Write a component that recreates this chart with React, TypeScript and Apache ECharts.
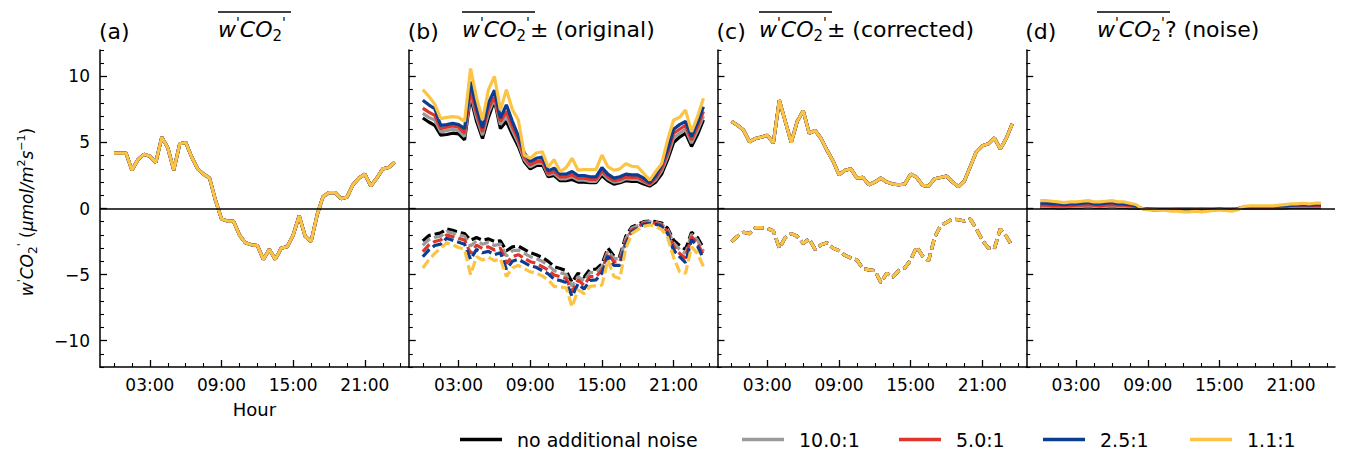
import React, { useEffect, useRef } from 'react';
import * as echarts from 'echarts';

// ---------- data ----------
const hours = [0, 0.5, 1, 1.5, 2, 2.5, 3, 3.5, 4, 4.5, 5, 5.5, 6, 6.5, 7, 7.5, 8, 8.5, 9, 9.5, 10, 10.5, 11, 11.5,
  12, 12.5, 13, 13.5, 14, 14.5, 15, 15.5, 16, 16.5, 17, 17.5, 18, 18.5, 19, 19.5, 20, 20.5, 21, 21.5, 22, 22.5, 23, 23.5];

const seriesNames = ['no additional noise', '10.0:1', '5.0:1', '2.5:1', '1.1:1'];
const seriesColors = ['#000000', '#9a9a9a', '#e0352b', '#0b3d91', '#fcc444'];

const majorX = [3, 9, 15, 21];
const minorX = [0, 1.5, 4.5, 6, 7.5, 10.5, 12, 13.5, 16.5, 18, 19.5, 22.5, 24];
const majorY = [-10, -5, 0, 5, 10];
const minorY = [-12, -11, -9, -8, -7, -6, -4, -3, -2, -1, 1, 2, 3, 4, 6, 7, 8, 9, 11, 12];

// (a) mean flux (all noise levels overlap)
const aFlux = [4.2, 4.2, 4.2, 2.9, 3.7, 4.1, 3.95, 3.5, 5.4, 4.6, 2.9, 4.9, 5.0, 3.9, 3.0, 2.6, 2.3, 0.6, -0.8, -0.95,
  -0.95, -2.0, -2.6, -2.75, -2.8, -3.85, -3.1, -3.85, -3.0, -2.9, -2.0, -0.55, -2.1, -2.5, -0.5, 0.9, 1.2, 1.2, 0.75,
  0.85, 1.8, 2.3, 2.6, 1.7, 2.3, 3.0, 3.1, 3.5];

// (b) original positive part
const bUpBlack = [6.85, 6.55, 6.3, 5.55, 5.6, 5.7, 5.65, 5.2, 8.45, 6.6, 5.3, 6.9, 8.2, 6.05, 6.6, 5.6, 4.7, 3.55, 3.0,
  3.25, 3.35, 2.4, 2.5, 2.1, 2.1, 2.2, 2.0, 2.0, 1.95, 1.95, 2.5, 2.1, 1.85, 1.95, 2.1, 2.05, 2.05, 1.85, 1.7, 2.0, 2.6,
  3.7, 5.0, 5.4, 5.7, 4.7, 5.6, 6.7];
const bUpGrey = [7.2, 6.9, 6.7, 5.8, 5.9, 6.0, 5.9, 5.45, 8.7, 6.9, 5.55, 7.25, 8.3, 6.35, 7.0, 5.9, 4.95, 3.7, 3.15,
  3.4, 3.5, 2.55, 2.65, 2.25, 2.25, 2.4, 2.15, 2.15, 2.05, 2.05, 2.7, 2.25, 2.0, 2.05, 2.25, 2.2, 2.2, 2.0, 1.8, 2.15,
  2.85, 3.95, 5.35, 5.7, 6.0, 4.95, 5.9, 7.0];
const bUpRed = [7.6, 7.3, 7.05, 6.05, 6.15, 6.25, 6.15, 5.7, 9.0, 7.2, 5.8, 7.6, 8.45, 6.6, 7.35, 6.2, 5.2, 3.9, 3.3,
  3.55, 3.65, 2.65, 2.8, 2.4, 2.4, 2.55, 2.3, 2.3, 2.2, 2.2, 2.85, 2.4, 2.1, 2.2, 2.4, 2.35, 2.35, 2.1, 1.85, 2.3, 3.05,
  4.2, 5.7, 6.0, 6.3, 5.2, 6.2, 7.35];
const bUpBlue = [8.2, 7.85, 7.55, 6.3, 6.35, 6.45, 6.35, 6.05, 9.6, 7.6, 6.1, 8.0, 8.95, 6.85, 7.85, 6.6, 5.5, 4.2, 3.55,
  3.8, 3.9, 2.85, 3.05, 2.6, 2.6, 2.8, 2.5, 2.5, 2.4, 2.4, 3.1, 2.6, 2.3, 2.4, 2.6, 2.55, 2.55, 2.3, 1.95, 2.5, 3.3, 4.5,
  6.0, 6.35, 6.6, 5.45, 6.5, 7.7];
const bUpYellow = [9.0, 8.5, 7.9, 6.8, 6.9, 6.95, 6.9, 6.6, 10.6, 8.4, 6.7, 9.0, 10.0, 7.45, 9.0, 7.5, 6.7, 4.05, 3.8,
  4.2, 4.3, 3.15, 3.7, 2.8, 3.1, 3.8, 2.9, 2.95, 2.95, 2.95, 4.05, 3.15, 2.9, 3.0, 3.4, 3.2, 3.15, 2.65, 2.15, 2.8, 3.4,
  5.2, 6.7, 6.9, 7.45, 5.8, 6.95, 8.35];

// (b) original negative part
const bLowBlack = [-2.45, -2.05, -1.95, -1.85, -1.55, -1.65, -1.8, -1.9, -2.4, -2.2, -2.4, -2.3, -2.5, -2.45, -3.2, -2.9,
  -2.85, -3.1, -3.35, -3.5, -3.7, -4.0, -4.4, -4.55, -4.7, -5.6, -4.9, -5.2, -4.6, -4.6, -4.2, -3.0, -3.6, -3.6, -2.1,
  -1.4, -1.2, -1.0, -0.95, -1.0, -1.1, -1.5, -2.4, -2.8, -3.1, -1.8, -2.2, -3.0];
const bLowGrey = [-2.8, -2.35, -2.2, -2.1, -1.75, -1.85, -2.0, -2.1, -2.85, -2.45, -2.7, -2.55, -2.8, -2.7, -3.6, -3.2,
  -3.15, -3.4, -3.65, -3.8, -4.0, -4.3, -4.7, -4.85, -5.0, -5.9, -5.15, -5.5, -4.85, -4.85, -4.4, -3.2, -3.8, -3.8, -2.3,
  -1.5, -1.3, -1.05, -1.0, -1.05, -1.2, -1.6, -2.6, -3.1, -3.4, -1.95, -2.4, -3.25];
const bLowRed = [-3.27, -2.77, -2.5, -2.39, -2.0, -2.13, -2.26, -2.39, -3.4, -2.77, -3.02, -2.9, -3.14, -3.0, -4.15, -3.65,
  -3.5, -3.77, -4.03, -4.15, -4.4, -4.66, -5.04, -5.16, -5.3, -6.3, -5.42, -5.8, -5.16, -5.16, -4.66, -3.4, -4.03, -4.03,
  -2.5, -1.63, -1.38, -1.12, -1.07, -1.12, -1.25, -1.75, -2.9, -3.4, -3.77, -2.13, -2.64, -3.52];
const bLowBlue = [-3.65, -3.15, -2.8, -2.7, -2.25, -2.4, -2.55, -2.7, -3.85, -3.1, -3.35, -3.25, -3.5, -3.35, -4.6, -4.0,
  -3.85, -4.1, -4.35, -4.45, -4.7, -4.95, -5.35, -5.45, -5.6, -6.65, -5.7, -6.1, -5.45, -5.4, -4.9, -3.6, -4.3, -4.3,
  -2.7, -1.75, -1.5, -1.2, -1.15, -1.2, -1.35, -1.9, -3.15, -3.65, -4.1, -2.35, -2.85, -3.8];
const bLowYellow = [-4.5, -3.9, -3.4, -3.0, -2.6, -2.75, -2.95, -3.1, -5.0, -3.65, -3.9, -3.7, -3.95, -3.8, -5.15, -4.5,
  -4.3, -4.55, -4.8, -4.9, -5.1, -5.4, -5.9, -5.95, -6.0, -7.45, -6.15, -6.45, -5.9, -5.85, -5.8, -3.9, -5.15, -5.3,
  -3.0, -1.9, -1.6, -1.35, -1.25, -1.35, -1.6, -2.2, -3.7, -4.8, -4.9, -2.9, -3.4, -4.4];

// (c) corrected parts (all noise levels nearly identical)
const cUp = [6.6, 6.3, 5.95, 5.05, 5.3, 5.4, 5.55, 4.95, 8.2, 6.6, 5.0, 6.6, 7.4, 5.7, 5.9, 5.3, 4.4, 3.6, 2.55, 2.9,
  3.0, 2.3, 2.35, 1.8, 2.0, 2.3, 2.0, 1.85, 1.8, 1.85, 2.6, 2.35, 1.75, 1.7, 2.25, 2.35, 2.45, 2.0, 1.65, 2.1, 3.2, 4.3,
  4.75, 4.9, 5.35, 4.5, 5.3, 6.4];
const cLow = [-2.5, -2.1, -1.8, -1.9, -1.45, -1.45, -1.5, -1.7, -3.0, -2.2, -1.9, -2.1, -2.65, -2.3, -3.1, -2.75, -2.6,
  -3.0, -3.2, -3.55, -3.75, -3.9, -4.55, -4.65, -4.7, -5.6, -4.9, -5.2, -4.7, -4.5, -3.9, -2.9, -3.6, -3.95, -2.2, -1.3,
  -1.05, -0.8, -0.85, -0.95, -0.8, -1.55, -2.4, -3.0, -3.05, -1.55, -2.1, -2.85];

// (d) noise part
const dBlack = [0.1, 0.1, 0.1, 0.05, 0.05, 0.1, 0.1, 0.1, 0.15, 0.1, 0.1, 0.1, 0.15, 0.1, 0.1, 0.05, 0.05, 0, 0, -0.05,
  -0.05, -0.05, -0.05, -0.05, -0.05, -0.05, -0.05, -0.05, -0.05, -0.05, 0, -0.05, -0.05, 0, 0.05, 0.05, 0.05, 0.05, 0.05,
  0.05, 0.05, 0.05, 0.1, 0.1, 0.1, 0.1, 0.1, 0.1];
const dGrey = [0.15, 0.15, 0.15, 0.1, 0.1, 0.15, 0.15, 0.15, 0.2, 0.15, 0.15, 0.15, 0.2, 0.15, 0.15, 0.1, 0.1, 0, 0, -0.05,
  -0.05, -0.05, -0.05, -0.1, -0.1, -0.1, -0.05, -0.1, -0.05, -0.05, 0, -0.05, -0.05, 0, 0.05, 0.1, 0.1, 0.1, 0.1, 0.1,
  0.1, 0.1, 0.15, 0.15, 0.15, 0.15, 0.15, 0.15];
const dRed = [0.25, 0.25, 0.2, 0.2, 0.2, 0.2, 0.25, 0.25, 0.3, 0.25, 0.2, 0.25, 0.3, 0.25, 0.25, 0.2, 0.15, 0, -0.05,
  -0.05, -0.1, -0.1, -0.1, -0.1, -0.15, -0.15, -0.1, -0.15, -0.1, -0.1, -0.05, -0.1, -0.1, -0.05, 0.1, 0.1, 0.1, 0.1, 0.1,
  0.1, 0.15, 0.15, 0.2, 0.2, 0.2, 0.2, 0.2, 0.2];
const dBlue = [0.4, 0.4, 0.35, 0.35, 0.3, 0.35, 0.35, 0.4, 0.45, 0.35, 0.35, 0.4, 0.45, 0.35, 0.35, 0.3, 0.2, 0, -0.05,
  -0.1, -0.1, -0.1, -0.15, -0.15, -0.2, -0.2, -0.15, -0.2, -0.15, -0.1, -0.05, -0.1, -0.15, -0.05, 0.1, 0.15, 0.15, 0.15,
  0.15, 0.15, 0.2, 0.2, 0.25, 0.25, 0.3, 0.25, 0.3, 0.3];
const dYellow = [0.6, 0.6, 0.55, 0.5, 0.45, 0.5, 0.5, 0.55, 0.6, 0.5, 0.5, 0.55, 0.6, 0.5, 0.5, 0.4, 0.3, 0, -0.1, -0.1,
  -0.15, -0.15, -0.2, -0.2, -0.25, -0.25, -0.2, -0.25, -0.2, -0.15, -0.1, -0.15, -0.2, -0.1, 0.15, 0.2, 0.2, 0.2, 0.2,
  0.2, 0.25, 0.3, 0.35, 0.35, 0.4, 0.35, 0.4, 0.4];

const panelSolid = [
  [aFlux, aFlux, aFlux, aFlux, aFlux],
  [bUpBlack, bUpGrey, bUpRed, bUpBlue, bUpYellow],
  [cUp, cUp, cUp, cUp, cUp],
  [dBlack, dGrey, dRed, dBlue, dYellow],
];
const panelDashed = [
  null,
  [bLowBlack, bLowGrey, bLowRed, bLowBlue, bLowYellow],
  [cLow, cLow, cLow, cLow, cLow],
  null,
];
const panelLetters = ['(a)', '(b)', '(c)', '(d)'];
const panelTitleTail = ['', '\u00b1 (original)', '\u00b1 (corrected)', '? (noise)'];

// ---------- layout ----------
const FONT = 'DejaVu Sans';
const GRID_LEFT = 100;
const GRID_W = 308.75;
const GRID_TOP = 50;
const GRID_H = 317;
const X_MIN = -1.175;
const X_MAX = 24.675;
const titleLefts = [218, 462, 759, 1097];
const legendLefts = [460, 742, 899, 1043, 1190];

const fmtHour = (v: number) => (v < 10 ? '0' : '') + v + ':00';
const fmtY = (v: number) => (v < 0 ? '\u2212' + Math.abs(v) : String(v));

const mathRich = (size: number) => ({
  it: { fontFamily: FONT, fontStyle: 'italic', fontSize: size, lineHeight: size + 6, color: '#000' },
  n: { fontFamily: FONT, fontSize: size, lineHeight: size + 6, color: '#000' },
  sub: { fontFamily: FONT, fontSize: Math.round(size * 0.7), lineHeight: Math.round(size * 0.5), verticalAlign: 'bottom', color: '#000' },
  sup: { fontFamily: FONT, fontSize: Math.round(size * 0.65), lineHeight: Math.round(size * 0.6), verticalAlign: 'top', color: '#000' },
});

function buildOption() {
  const grid: any[] = [];
  const xAxis: any[] = [];
  const yAxis: any[] = [];
  const series: any[] = [];
  const graphic: any[] = [];

  for (let g = 0; g < 4; g++) {
    grid.push({ left: GRID_LEFT + g * GRID_W, top: GRID_TOP, width: GRID_W, height: GRID_H, containLabel: false });
    xAxis.push({
      gridIndex: g, type: 'value', position: 'bottom', min: X_MIN, max: X_MAX,
      axisLine: { show: true, onZero: false, lineStyle: { color: '#000', width: 1.5 } },
      axisTick: { show: true, inside: true, length: 7, customValues: majorX, lineStyle: { color: '#000', width: 1.3 } },
      axisLabel: { show: true, customValues: majorX, formatter: fmtHour, fontFamily: FONT, fontSize: 17, color: '#000', margin: 9 },
      splitLine: { show: false },
      name: g === 0 ? 'Hour' : '', nameLocation: 'middle', nameGap: 33,
      nameTextStyle: { fontFamily: FONT, fontSize: 18, color: '#000' },
    });
    xAxis.push({
      gridIndex: g, type: 'value', position: 'bottom', min: X_MIN, max: X_MAX,
      axisLine: { show: false, onZero: false },
      axisTick: { show: true, inside: true, length: 4, customValues: minorX, lineStyle: { color: '#000', width: 1.1 } },
      axisLabel: { show: false }, splitLine: { show: false },
    });
    yAxis.push({
      gridIndex: g, type: 'value', position: 'left', min: -12, max: 12,
      axisLine: { show: true, onZero: false, lineStyle: { color: '#000', width: 1.5 } },
      axisTick: { show: true, inside: true, length: 7, customValues: majorY, lineStyle: { color: '#000', width: 1.3 } },
      axisLabel: { show: g === 0, customValues: majorY, formatter: fmtY, fontFamily: FONT, fontSize: 17, color: '#000', margin: 10 },
      splitLine: { show: false },
    });
    yAxis.push({
      gridIndex: g, type: 'value', position: 'left', min: -12, max: 12,
      axisLine: { show: false, onZero: false },
      axisTick: { show: true, inside: true, length: 4, customValues: minorY, lineStyle: { color: '#000', width: 1.1 } },
      axisLabel: { show: false }, splitLine: { show: false },
    });

    const xi = 2 * g;
    for (let k = 0; k < 5; k++) {
      const sets: any[] = [{ arr: panelSolid[g][k], dash: 'solid' }];
      const dashed = panelDashed[g];
      if (dashed) sets.push({ arr: dashed[k], dash: [10, 4] });
      sets.forEach((s) => {
        series.push({
          type: 'line', name: seriesNames[k], xAxisIndex: xi, yAxisIndex: xi,
          data: hours.map((h, i) => [h, s.arr[i]]),
          symbol: 'none', showSymbol: false, silent: true,
          color: seriesColors[k],
          lineStyle: { color: seriesColors[k], width: 3.2, type: s.dash },
        });
      });
    }
    // zero line, drawn on top
    series.push({
      type: 'line', name: 'zero', xAxisIndex: xi, yAxisIndex: xi, data: [], symbol: 'none', silent: true,
      z: 5,
      markLine: {
        silent: true, symbol: 'none', label: { show: false }, animation: false,
        lineStyle: { color: '#000', width: 1.5, type: 'solid' },
        data: [{ yAxis: 0 }],
      },
    });

    // panel letter
    graphic.push({
      type: 'text', left: GRID_LEFT + g * GRID_W - 1, top: 20,
      style: { text: panelLetters[g], font: `22px "${FONT}"`, fill: '#000' },
    });
    // title math
    const tail = panelTitleTail[g] ? `{n|${panelTitleTail[g]}}` : '';
    graphic.push({
      type: 'text', left: titleLefts[g], top: 15,
      style: {
        text: `{it|w}{sup|'}{it|CO}{sub|2}{sup|'}${tail}`,
        rich: mathRich(22), fill: '#000',
      },
    });
    graphic.push({
      type: 'line',
      shape: { x1: titleLefts[g], y1: 12, x2: titleLefts[g] + 73, y2: 12 },
      style: { stroke: '#000', lineWidth: 1.3 },
    });
  }

  // rotated y label
  graphic.push({
    type: 'text', x: 27, y: 212, rotation: Math.PI / 2,
    style: {
      text: `{it|w}{sup|'}{it|CO}{sub|2}{sup|'}{n| (}{it|\u03bcmol/m}{sup|2}{it|s}{sup|\u22121}{n|)}`,
      rich: mathRich(17), fill: '#000', align: 'center', verticalAlign: 'middle',
      textAlign: 'center', textVerticalAlign: 'middle',
    },
  });

  const legend = seriesNames.map((n, i) => ({
    data: [n], left: legendLefts[i], top: 430, padding: 0,
    icon: 'rect', itemWidth: 42, itemHeight: 3.5, selectedMode: false,
    textStyle: { fontFamily: FONT, fontSize: 19, color: '#000', padding: [0, 0, 0, 10] },
  }));

  return { animation: false, backgroundColor: '#fff', grid, xAxis, yAxis, series, graphic, legend };
}

export default function App() {
  const ref = useRef<HTMLDivElement>(null);
  useEffect(() => {
    document.body.style.margin = '0';
    if (!ref.current) return;
    const chart = echarts.init(ref.current, null, { renderer: 'svg' });
    chart.setOption(buildOption() as any);
    return () => chart.dispose();
  }, []);
  return <div ref={ref} style={{ width: 1349, height: 456 }} />;
}
